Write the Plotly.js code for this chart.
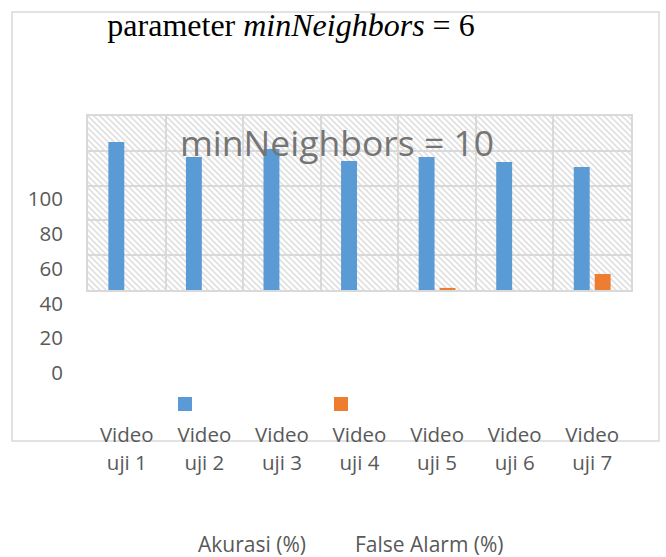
<!DOCTYPE html>
<html>
<head>
<meta charset="utf-8">
<script src="https://cdn.plot.ly/plotly-3.0.1.min.js"></script>
<style>html,body{margin:0;padding:0;background:#fff;}#chart{width:666px;height:557px;}</style>
</head>
<body>
<div id="chart"></div>
<script>
const categories = ["Video uji 1","Video uji 2","Video uji 3","Video uji 4","Video uji 5","Video uji 6","Video uji 7"];
const akurasi = [85.1, 76.4, 81.0, 74.1, 76.4, 73.6, 70.7];
const falseAlarm = [0, 0, 0, 0, 1.2, 0, 9.2];
const seriesNames = ["Akurasi (%)", "False Alarm (%)"];
const yTicks = [0, 20, 40, 60, 80, 100];
const titleText = "parameter <i>minNeighbors</i> = 6";
const subtitleText = "minNeighbors = 10";

const W = 666, H = 557;
const px = x => x / W;
const py = y => 1 - y / H;

const labelTop = categories.map(c => c.split(" ")[0]);
const labelBottom = categories.map(c => c.split(" ").slice(1).join(" "));
const alias = {};
categories.forEach((c, i) => alias[c] = labelTop[i]);

const tickFont = {family: "Open Sans, sans-serif", size: 20.5, color: "#595959"};
const legendFont = {family: "Open Sans, sans-serif", size: 21, color: "#595959"};
const gridC = "#d9d9d9";

const hatch = "data:image/svg+xml;utf8," + encodeURIComponent(
  '<svg xmlns="http://www.w3.org/2000/svg" width="543" height="174">' +
  '<defs><pattern id="p" width="6" height="6" patternUnits="userSpaceOnUse">' +
  '<rect width="6" height="6" fill="#ffffff"/>' +
  '<path d="M-1,-1 L7,7 M-1,5 L1,7 M5,-1 L7,1" stroke="#e0e0e0" stroke-width="1.6"/>' +
  '</pattern></defs><rect width="543" height="174" fill="url(#p)"/></svg>');

const data = [
  {type: "bar", name: seriesNames[0], x: categories, y: akurasi, marker: {color: "#5b9bd5"}, showlegend: false},
  {type: "bar", name: seriesNames[1], x: categories, y: falseAlarm, marker: {color: "#ed7d31"}, showlegend: false},
  {type: "scatter", x: [], y: [], xaxis: "x2", yaxis: "y", showlegend: false, hoverinfo: "skip"}
];

const layout = {
  width: W, height: H,
  margin: {l: 0, r: 0, t: 0, b: 0},
  paper_bgcolor: "#ffffff",
  plot_bgcolor: "rgba(0,0,0,0)",
  barmode: "group",
  bargap: 0.46,
  bargroupgap: 0.24,
  showlegend: false,
  title: {
    text: titleText,
    font: {family: "Liberation Serif, Times New Roman, serif", size: 32, color: "#000000"},
    x: px(291), xanchor: "center", xref: "paper",
    y: py(25), yanchor: "middle", yref: "container"
  },
  xaxis: {
    type: "category",
    domain: [px(88), px(631)],
    anchor: "y",
    tickson: "boundaries",
    showgrid: true, gridcolor: gridC, gridwidth: 2,
    showline: true, mirror: true, linecolor: gridC, linewidth: 2,
    ticks: "",
    labelalias: alias,
    tickfont: tickFont,
    ticklabelstandoff: 125,
    fixedrange: true
  },
  xaxis2: {
    type: "linear",
    overlaying: "x",
    anchor: "y",
    range: [-0.5, categories.length - 0.5],
    tickmode: "array",
    tickvals: categories.map((c, i) => i),
    ticktext: labelBottom,
    showgrid: false, zeroline: false, showline: false,
    ticks: "",
    tickfont: tickFont,
    ticklabelstandoff: 158,
    fixedrange: true
  },
  yaxis: {
    domain: [py(290), py(116)],
    range: [0, 100],
    tickmode: "array",
    tickvals: yTicks,
    ticktext: yTicks.map(String),
    showgrid: true, gridcolor: gridC, gridwidth: 2,
    showline: true, mirror: true, linecolor: gridC, linewidth: 2,
    zeroline: false,
    ticks: "",
    tickfont: tickFont,
    ticklabelshift: 83,
    ticklabelstandoff: 19,
    fixedrange: true
  },
  images: [{
    source: hatch, xref: "paper", yref: "paper",
    x: px(88), y: py(116), sizex: px(631) - px(88), sizey: py(116) - py(290),
    xanchor: "left", yanchor: "top", sizing: "stretch", layer: "below"
  }],
  shapes: [
    {type: "rect", xref: "paper", yref: "paper", x0: px(12), x1: px(659), y0: py(441), y1: py(12),
     line: {color: "#d9d9d9", width: 1.5}, fillcolor: "rgba(0,0,0,0)", layer: "below"},
    {type: "rect", xref: "paper", yref: "paper", x0: px(178), x1: px(192), y0: py(411), y1: py(397),
     line: {width: 0}, fillcolor: "#5b9bd5"},
    {type: "rect", xref: "paper", yref: "paper", x0: px(334), x1: px(348), y0: py(411), y1: py(397),
     line: {width: 0}, fillcolor: "#ed7d31"}
  ],
  annotations: [
    {text: subtitleText, xref: "paper", yref: "paper", x: px(337), y: py(142), xanchor: "center", yanchor: "middle",
     showarrow: false, font: {family: "Open Sans, sans-serif", size: 35.5, color: "#757575"}},
    {text: seriesNames[0], xref: "paper", yref: "paper", x: px(252), y: py(544), xanchor: "center", yanchor: "middle",
     showarrow: false, borderpad: 0, font: legendFont},
    {text: seriesNames[1], xref: "paper", yref: "paper", x: px(429), y: py(544), xanchor: "center", yanchor: "middle",
     showarrow: false, borderpad: 0, font: legendFont}
  ]
};

Plotly.newPlot("chart", data, layout, {displayModeBar: false, staticPlot: true});
</script>
</body>
</html>
